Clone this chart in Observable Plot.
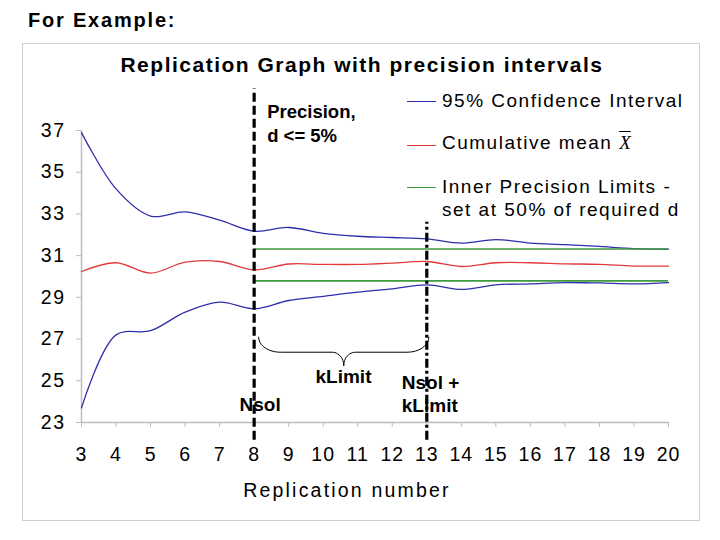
<!DOCTYPE html>
<html><head><meta charset="utf-8">
<script src="https://cdn.jsdelivr.net/npm/d3@7"></script>
<script src="https://cdn.jsdelivr.net/npm/@observablehq/plot@0.6"></script>
<style>
html,body{margin:0;padding:0;background:#fff;}
#wrap{position:relative;width:720px;height:540px;overflow:hidden;font-family:"Liberation Sans",Arial,sans-serif;color:#000;}
#box{position:absolute;left:22px;top:43px;width:676px;height:476px;border:1px solid #cfcfcf;}
#chart{position:absolute;left:0;top:0;}
.t{position:absolute;white-space:nowrap;line-height:1;}
#ex{left:28px;top:10px;font-size:20px;font-weight:bold;letter-spacing:1.8px;}
#title{left:362px;top:54px;font-size:21px;font-weight:bold;letter-spacing:1.5px;transform:translateX(-50%);}
.lg{position:absolute;left:407px;width:29px;height:0;border-top:1.3px solid;}
.lt{position:absolute;left:442px;font-size:19px;letter-spacing:1.5px;white-space:nowrap;line-height:1;}
.xbar{font-family:"Liberation Serif",serif;font-style:italic;text-decoration:overline;letter-spacing:0;font-size:19px;}
g[aria-label="x-axis tick label"] text{letter-spacing:1px;}
g[aria-label="y-axis tick label"] text{letter-spacing:1.5px;}
</style></head><body>
<div id="wrap">
  <div id="box"></div>
  <div id="chart"></div>
  <div class="t" id="ex">For Example:</div>
  <div class="t" id="title">Replication Graph with precision intervals</div>
  <div id="legend"></div>
</div>
<script>
// ---- data ----
const replications = [3,4,5,6,7,8,9,10,11,12,13,14,15,16,17,18,19,20];
const upperCI  = [36.9,34.2,32.9,33.1,32.7,32.17,32.35,32.07,31.93,31.87,31.8,31.6,31.77,31.6,31.53,31.44,31.34,31.31];
const cumMean  = [30.24,30.66,30.16,30.69,30.72,30.32,30.6,30.58,30.58,30.64,30.72,30.48,30.66,30.66,30.61,30.58,30.5,30.5];
const lowerCI  = [23.7,27.2,27.4,28.29,28.77,28.45,28.85,29.05,29.25,29.41,29.6,29.38,29.6,29.65,29.71,29.69,29.65,29.71];
const innerLimits = [31.32, 29.79];
const nsol = 8;
const kLimit = 5;
const yTicks = [23,25,27,29,31,33,35,37];
const xTicks = replications;
const legendLabels = ["95% Confidence Interval", "Cumulative mean", "Inner Precision Limits -\nset at 50% of required d"];
const xLabel = "Replication number";

// ---- styles ----
const blue = "#2f2fab", red = "#e23a3a", green = "#3d9a3d";
const legendColors = [blue, red, green];

const rows = [];
replications.forEach((r, i) => {
  rows.push({rep: r, value: upperCI[i], s: "upper"});
  rows.push({rep: r, value: lowerCI[i], s: "lower"});
  rows.push({rep: r, value: cumMean[i], s: "mean"});
});
const ciRows = rows.filter(d => d.s !== "mean");
const meanRows = rows.filter(d => d.s === "mean");

// curly brace between Nsol and Nsol + kLimit (left half, mirrored for right half)
function bracePoints(x0, x1, yTop, yMid, yTip, r, r2) {
  const left = [];
  const xm = (x0 + x1) / 2;
  const N = 12;
  for (let k = 0; k <= N; k++) { const p = k / N * Math.PI / 2; left.push({x: x0 + r * (1 - Math.cos(p)), y: yMid + (yTop - yMid) * (1 - Math.sin(p))}); }
  for (let k = 0; k <= N; k++) { const p = k / N * Math.PI / 2; left.push({x: xm - r2 + r2 * Math.sin(p), y: yMid - (yMid - yTip) * (1 - Math.cos(p))}); }
  const right = left.map(d => ({x: x0 + x1 - d.x, y: d.y, h: "R"}));
  return left.map(d => ({...d, h: "L"})).concat(right);
}
const brace = bracePoints(nsol + 0.13, nsol + kLimit + 0.06, 27.09, 26.37, 25.73, 0.63, 0.34);

const chart = Plot.plot({
  width: 720, height: 540,
  marginLeft: 81, marginRight: 52, marginTop: 130, marginBottom: 118,
  x: {domain: [3, 20]},
  y: {domain: [23, 37]},
  style: {fontFamily: "Liberation Sans, Arial, sans-serif", background: "transparent", overflow: "visible", color: "#000"},
  marks: [
    Plot.ruleY([23], {stroke: "#bdbdbd", strokeWidth: 1.5}),
    Plot.ruleX([3], {stroke: "#bdbdbd", strokeWidth: 1.5}),
    Plot.axisY(yTicks, {tickSize: 5, tickPadding: 11, fontSize: 19.5, stroke: "#bdbdbd", fill: "#000", label: null}),
    Plot.axisX(xTicks, {tickSize: 5, tickPadding: 20, fontSize: 19.5, stroke: "#bdbdbd", fill: "#000", label: null}),
    Plot.text([xLabel], {frameAnchor: "bottom", dx: -28, dy: 68, fontSize: 19.5, fill: "#000", lineAnchor: "middle"}),
    Plot.line(ciRows, {x: "rep", y: "value", z: "s", stroke: blue, strokeWidth: 1.3, curve: "catmull-rom"}),
    Plot.line(meanRows, {x: "rep", y: "value", stroke: red, strokeWidth: 1.3, curve: "catmull-rom"}),
    Plot.ruleY(innerLimits, {x1: nsol, x2: replications[replications.length - 1], stroke: green, strokeWidth: 1.6}),
    // annotations
    Plot.text(["Precision,\nd <= 5%"], {x: nsol, y: 37.38, dx: 13, textAnchor: "start", fontSize: 18.5, fontWeight: "bold", lineHeight: 1.26}),
    Plot.text(["kLimit"], {x: nsol + kLimit / 2, y: 25.19, dx: 3, fontSize: 19, fontWeight: "bold"}),
    Plot.text(["Nsol"], {x: nsol, y: 23.84, dx: 6, fontSize: 19, fontWeight: "bold"}),
    Plot.text(["Nsol +\nkLimit"], {x: nsol + kLimit, y: 24.4, dx: -25, textAnchor: "start", fontSize: 19, fontWeight: "bold", lineHeight: 1.22}),
    Plot.line(brace, {x: "x", y: "y", z: "h", stroke: "#000", strokeWidth: 1, curve: "linear"}),
    Plot.ruleX([nsol], {y1: 22.15, y2: 39.0, stroke: "#000", strokeWidth: 3.2, strokeDasharray: "9,4"}),
    Plot.ruleX([nsol + kLimit], {y1: 22.15, y2: 32.6, stroke: "#000", strokeWidth: 3.2, strokeDasharray: "9,3,3,3"})
  ]
});
chart.querySelectorAll("text").forEach(t => {
  if (t.textContent === xLabel) t.style.letterSpacing = "2.2px";
});
document.getElementById("chart").appendChild(chart);

// legend
const legend = document.getElementById("legend");
const lineYs = [101, 145, 187.3];
const textTops = [90.7, 133.2, 177.0];
legendLabels.forEach((lab, i) => {
  const ln = document.createElement("div");
  ln.className = "lg";
  ln.style.top = lineYs[i] + "px";
  ln.style.borderTopColor = legendColors[i];
  legend.appendChild(ln);
  const parts = lab.split("\n");
  parts.forEach((p, j) => {
    const tx = document.createElement("div");
    tx.className = "lt";
    tx.style.top = (textTops[i] + j * 22.5) + "px";
    tx.textContent = p;
    if (i === 1) {
      tx.textContent = p + " ";
      const xb = document.createElement("span");
      xb.className = "xbar";
      xb.textContent = "X";
      tx.appendChild(xb);
    }
    legend.appendChild(tx);
  });
});
</script>
</body></html>
